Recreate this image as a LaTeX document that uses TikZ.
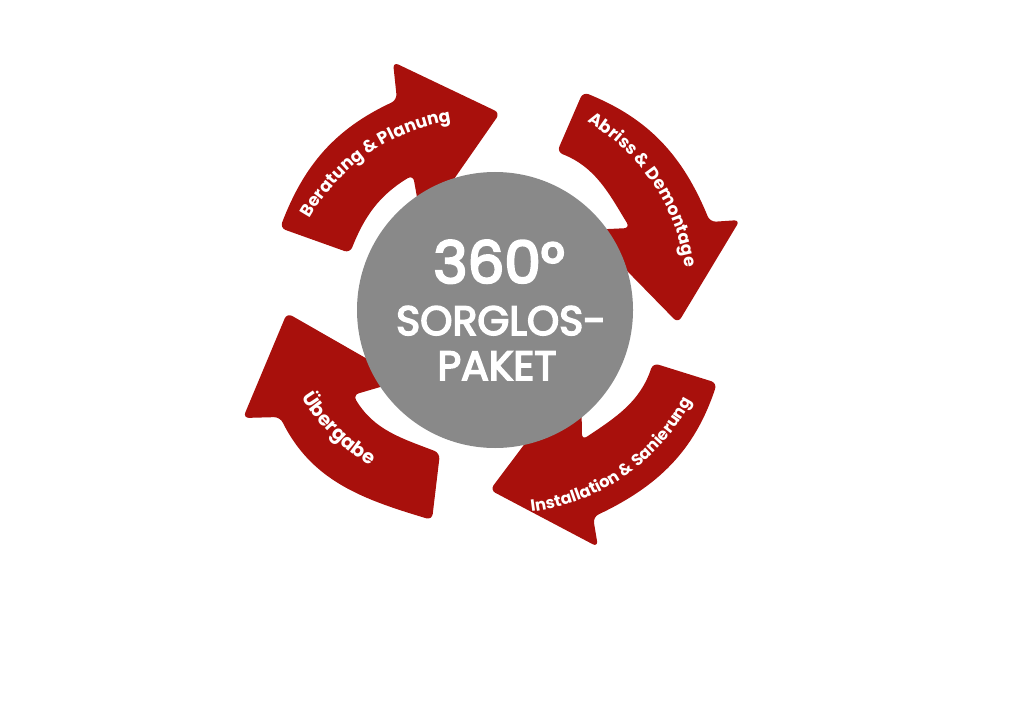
\documentclass[tikz,border=0pt]{standalone}
\usepackage{fontspec}
\setmainfont{Poppins}
\newfontfamily\hubfamily{Poppins}[FakeBold=4]
\definecolor{arrowred}{RGB}{168,16,12}
\definecolor{hubgray}{RGB}{137,137,137}
\newcommand{\lblfont}{\fontsize{17.2}{17.2}\selectfont\bfseries}
\newcommand{\lblfontsmall}{\fontsize{16.3}{16.3}\selectfont\bfseries}
\newcommand{\biglblfont}{\fontsize{19.3}{19.3}\selectfont\bfseries}
\newdimen\arcacc
% #1 name, #2 cx, #3 cy, #4 baseline radius, #5 mid angle, #6 dir (1 ccw, -1 cw), #7 font, #8 chars
\newcommand{\arclabel}[8]{%
  \setbox0=\hbox{\pgfinterruptpicture#7\foreach \c in {#8}{\c}\endpgfinterruptpicture}%
  \edef\arctot{\the\wd0}%
  \global\arcacc=0pt\relax
  \foreach \c [count=\ci] in {#8}{%
    \setbox1=\hbox{\pgfinterruptpicture#7\c\endpgfinterruptpicture}%
    \edef\arccw{\the\wd1}%
    \edef\arcac{\the\arcacc}%
    \pgfmathsetmacro\ang{#5+#6*(\arcac+0.5*\arccw-0.5*\arctot)/#4*180/pi}%
    \pgfmathsetmacro\rot{\ang+#6*90}%
    \node[inner sep=0pt, anchor=base, text=white, font=#7, rotate=\rot] (#1-\ci) at ({#2+#4*cos(\ang)},{#3+#4*sin(\ang)}) {\c};%
    \global\advance\arcacc by \wd1\relax
  }%
}
\begin{document}
\begin{tikzpicture}[x=1pt,y=1pt,
  arrowshape/.style={fill=arrowred, rounded corners=6pt},
  hubtext/.style={anchor=base, inner sep=0pt, text=white, font=\hubfamily\fontsize{41}{41}\selectfont}]
\useasboundingbox (0,0) rectangle (1024,724);
% arrow 1: Beratung & Planung
\fill[arrowshape] (280,496) to[out=69,in=205] (397,624) -- (393,662) -- (500,611) -- (422,499) -- (413,549) to[out=211,in=68.5] (350,471) -- cycle;
% arrow 2: Abriss & Demontage
\fill[arrowshape] (583,632) to[out=-22,in=112.3] (710,502) -- (740,504) -- (678,401) -- (587,494) -- (630,496) to[out=121.3,in=-21.4] (557,572) -- cycle;
% arrow 3: Installation & Sanierung
\fill[arrowshape] (717,341) to[out=-108.2,in=25.3] (593,207) -- (598,177) -- (490,234) -- (581,355) -- (582,284) to[out=33.8,in=-108.5] (653,361) -- cycle;
% arrow 4: Uebergabe
\fill[arrowshape] (432,204) to[out=163.3,in=296.5] (280,307) -- (243,306) -- (287,411) -- (404,344) -- (353,329) to[out=300.9,in=159] (440,271) -- cycle;
% hub
\node[circle, fill=hubgray, minimum size=276pt, inner sep=0pt] (hub) at (495,414) {};
\node[hubtext, font=\hubfamily\fontsize{58}{58}\selectfont] (t360) at (499,441) {360°};
\node[hubtext] (tsorglos) at (501,389) {SORGLOS-};
\node[hubtext] (tpaket) at (497,344) {PAKET};
% curved labels
\arclabel{lba}{480}{410}{195}{124.6}{-1}{\lblfont}{B,e,r,a,t,u,n,g,\space,\&,\space,P,l,a,n,u,n,g}
\arclabel{lbb}{487}{429}{200}{33.9}{-1}{\lblfont}{A,b,r,i,s,s,\space,\&,\space,D,e,m,o,n,t,a,g,e}
\arclabel{lbc}{505.5}{421.5}{211}{-55.4}{1}{\lblfontsmall}{I,n,s,t,a,l,l,a,t,i,o,n,\space,\&,\space,S,a,n,i,e,r,u,n,g}
\arclabel{lbd}{476.6}{435.2}{206}{225.4}{1}{\biglblfont}{Ü,b,e,r,g,a,b,e}
\end{tikzpicture}
\end{document}
